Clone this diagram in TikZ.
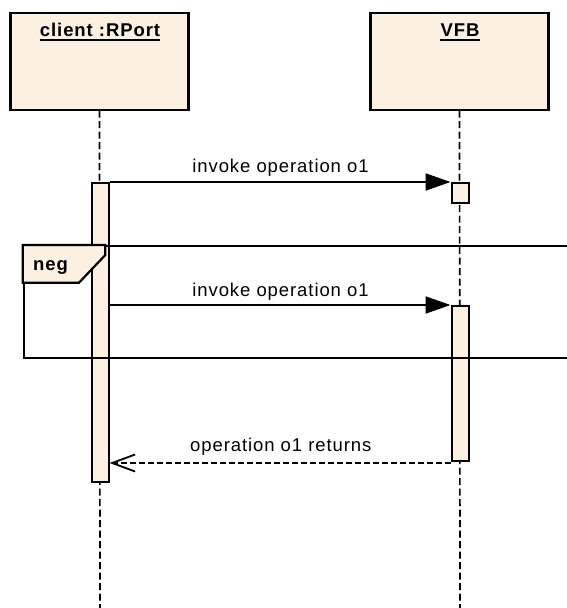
\documentclass[tikz,border=0pt]{standalone}
\usepackage{fontspec}
\setmainfont{Liberation Sans}
\newfontfamily\seqfont[LetterSpace=5]{Liberation Sans}
\usetikzlibrary{arrows.meta}
\definecolor{SBeige}{HTML}{FBF0E1}

\begin{document}
\begin{tikzpicture}[x=1pt,y=-1pt,
  obj/.style={draw,line width=2.2pt,fill=SBeige,minimum width=178pt,
    minimum height=97pt,inner sep=0pt,anchor=north},
  ttl/.style={font=\seqfont\fontsize{18.5}{22}\selectfont\bfseries,inner sep=0pt,anchor=base},
  bar/.style={draw,line width=2pt,fill=SBeige,minimum width=17pt,inner sep=0pt,anchor=north},
  life/.style={line width=1.7pt,dash pattern=on 7pt off 3.5pt},
  msg/.style={line width=2pt,-{Triangle[length=25pt,width=17pt]}},
  ret/.style={line width=1.8pt,dash pattern=on 6pt off 3pt,
    -{Straight Barb[length=23pt,width=17pt]}},
  lbl/.style={font=\seqfont\fontsize{18.5}{22}\selectfont,inner sep=0pt,anchor=base},
  frm/.style={draw,line width=2.2pt,minimum width=580pt,minimum height=112pt,
    inner sep=0pt,anchor=north west},
  tab/.style={draw,line width=2.2pt,fill=SBeige,line join=miter}
]
  \clip (0,0) rectangle (567,608);
  % lifeline heads
  \node[obj] (client) at (99.5,11.5) {};
  \node[obj] (vfb) at (459.5,11.5) {};
  \node[ttl] (clientT) at (100,36) {client :RPort};
  \node[ttl] (vfbT) at (460,36) {VFB};
  \foreach \t in {clientT,vfbT}
    {\draw[line width=2pt] ([yshift=-3.5pt]\t.base west) -- ([yshift=-3.5pt]\t.base east);}
  % lifelines
  \coordinate (cend) at (100,608);
  \coordinate (vend) at (460,608);
  \draw[life] (client.south) -- (cend);
  \draw[life] (vfb.south) -- (vend);
  % activations
  \node[bar,minimum height=299pt] (cbar) at (100,182) {};
  \node[bar,minimum height=20pt] (vbar1) at (460,182) {};
  \node[bar,minimum height=155pt] (vbar2) at (460,305) {};
  % messages
  \draw[msg] (cbar.north east) -- (vbar1.north west);
  \draw[msg] (cbar.east |- vbar2.north) -- (vbar2.north west);
  \draw[ret] ([yshift=-1pt]vbar2.south west) -- ([yshift=-1pt]cbar.east |- vbar2.south);
  \node[lbl] (m1) at (280.5,172.7) {invoke operation o1};
  \node[lbl] (m2) at (280.5,296) {invoke operation o1};
  \node[lbl] (m3) at (280.8,451.7) {operation o1 returns};
  % neg fragment
  \node[frm] (negF) at (22.7,245) {};
  \draw[tab] (negF.north west) -- ++(82.6,0) -- ++(0,10) -- ++(-26.3,27.7)
    -- ++(-56.3,0) -- cycle;
  \node[ttl,anchor=base west] (negT) at (33,270.7) {neg};
\end{tikzpicture}
\end{document}
